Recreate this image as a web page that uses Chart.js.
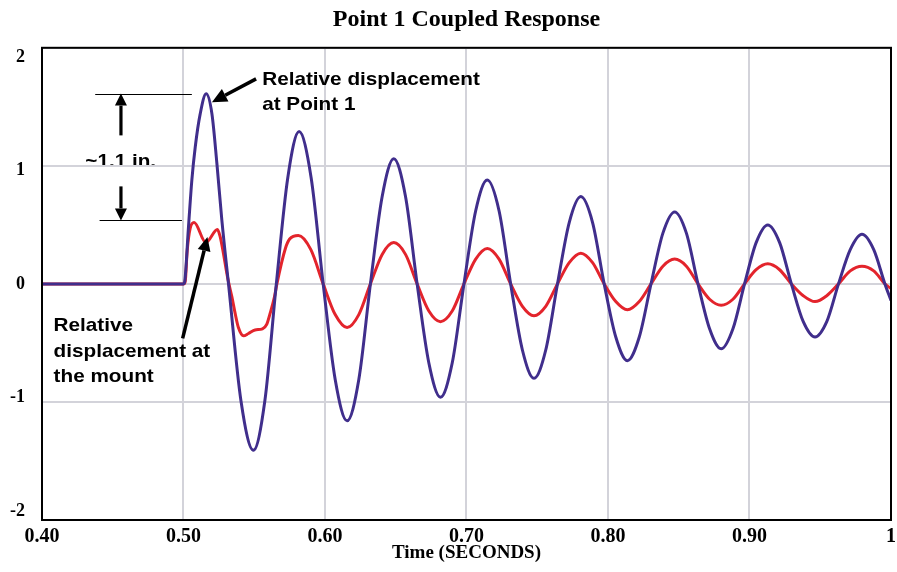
<!DOCTYPE html>
<html>
<head>
<meta charset="utf-8">
<script src="https://cdn.jsdelivr.net/npm/chart.js@4.4.1/dist/chart.umd.min.js"></script>
<style>
  body { margin: 0; background: #fff; }
  #wrap { width: 897px; height: 572px; }
</style>
</head>
<body>
<div id="wrap"><canvas id="chart"></canvas></div>
<script>
  // time (s) and displacement (in.)
  const blueTime = [0.40, 0.50, 0.5007, 0.5035, 0.5059, 0.5083, 0.5118, 0.5160, 0.5201, 0.5236, 0.5271, 0.5318,
    0.5406, 0.5494, 0.5575, 0.5656, 0.5737, 0.5817, 0.5902, 0.5987, 0.6072, 0.6156, 0.6239, 0.6321,
    0.6404, 0.6486, 0.6569, 0.6651, 0.6734, 0.6816, 0.6899, 0.6982, 0.7065, 0.7147, 0.7230, 0.7312,
    0.7395, 0.7477, 0.7560, 0.7643, 0.7726, 0.7808, 0.7891, 0.7973, 0.8055, 0.8137, 0.8221, 0.8304,
    0.8388, 0.8471, 0.8554, 0.8636, 0.8718, 0.8800, 0.8883, 0.8965, 0.9047, 0.9129, 0.9213, 0.9296,
    0.9380, 0.9463, 0.9546, 0.9629, 0.9712, 0.9795, 0.9878, 0.9957, 1.00];
  const blueDisp = [0, 0, 0.01, 0.48, 0.88, 1.16, 1.44, 1.61, 1.44, 1.02, 0.54, 0,
    -0.99, -1.41, -0.99, 0, 0.90, 1.29, 0.90, 0, -0.81, -1.16, -0.81, 0,
    0.74, 1.06, 0.74, 0, -0.67, -0.96, -0.67, 0, 0.62, 0.88, 0.62, 0,
    -0.56, -0.80, -0.56, 0, 0.52, 0.74, 0.52, 0, -0.45, -0.65, -0.45, 0,
    0.43, 0.61, 0.43, 0, -0.38, -0.55, -0.38, 0, 0.35, 0.50, 0.35, 0,
    -0.32, -0.45, -0.32, 0, 0.29, 0.42, 0.29, 0, -0.14];

  const redTime = [0.40, 0.50, 0.5012, 0.5026, 0.5047, 0.5075, 0.5158, 0.5240, 0.5259, 0.5282, 0.5306, 0.5321,
    0.5342, 0.5365, 0.5388, 0.5424, 0.5459, 0.5506, 0.5558, 0.5589, 0.5612, 0.5643, 0.5660, 0.5720,
    0.5750, 0.5812, 0.5900, 0.5987, 0.6072, 0.6156, 0.6239, 0.6321,
    0.6404, 0.6486, 0.6569, 0.6651, 0.6734, 0.6816, 0.6899, 0.6982, 0.7065, 0.7147, 0.7230, 0.7312,
    0.7395, 0.7477, 0.7560, 0.7643, 0.7726, 0.7808, 0.7891, 0.7973, 0.8055, 0.8137, 0.8221, 0.8304,
    0.8388, 0.8471, 0.8554, 0.8636, 0.8718, 0.8800, 0.8883, 0.8965, 0.9047, 0.9129, 0.9213, 0.9296,
    0.9380, 0.9463, 0.9546, 0.9629, 0.9712, 0.9795, 0.9878, 0.9957, 1.00];
  const redDisp = [0, 0, 0.02, 0.28, 0.47, 0.52, 0.35, 0.46, 0.40, 0.26, 0.09, 0,
    -0.11, -0.25, -0.37, -0.44, -0.42, -0.39, -0.38, -0.34, -0.25, -0.11, 0, 0.30,
    0.38, 0.41, 0.29, 0, -0.26, -0.37, -0.26, 0,
    0.25, 0.35, 0.25, 0, -0.23, -0.32, -0.23, 0, 0.21, 0.30, 0.21, 0,
    -0.19, -0.27, -0.19, 0, 0.18, 0.26, 0.18, 0, -0.15, -0.22, -0.15, 0,
    0.15, 0.21, 0.15, 0, -0.13, -0.18, -0.13, 0, 0.12, 0.17, 0.12, 0,
    -0.10, -0.15, -0.10, 0, 0.11, 0.15, 0.11, 0, -0.04];

  const xTicks = [0.4, 1.0];   // axis range, step 0.1
  const yTicks = [-2, 2];      // axis range, step 1

  const serif = '"Liberation Serif", "Times New Roman", serif';

  function label(ctx, text, x, y) {
    ctx.save();
    ctx.translate(x, y);
    ctx.scale(1.12, 1);
    ctx.font = 'bold 18.5px "Liberation Sans", Arial, sans-serif';
    ctx.fillStyle = '#000';
    ctx.fillText(text, 0, 0);
    ctx.restore();
  }

  function arrow(ctx, x1, y1, x2, y2, head, half, w) {
    const ang = Math.atan2(y2 - y1, x2 - x1);
    const bx = x2 - head * Math.cos(ang), by = y2 - head * Math.sin(ang);
    ctx.lineWidth = w;
    ctx.beginPath(); ctx.moveTo(x1, y1); ctx.lineTo(bx, by); ctx.stroke();
    ctx.beginPath();
    ctx.moveTo(x2, y2);
    ctx.lineTo(bx + half * Math.sin(ang), by - half * Math.cos(ang));
    ctx.lineTo(bx - half * Math.sin(ang), by + half * Math.cos(ang));
    ctx.closePath(); ctx.fill();
  }

  const notes = {
    id: 'notes',
    beforeDraw(chart) {
      // this one sits under the grid line in the original
      const { ctx, scales: { x, y } } = chart;
      label(ctx, '~1.1 in.', x.getPixelForValue(0.4306), y.getPixelForValue(0.99));
    },
    afterDatasetsDraw(chart) {
      const { ctx, chartArea: a, scales: { x, y } } = chart;
      const px = t => x.getPixelForValue(t);
      const py = v => y.getPixelForValue(v);
      ctx.save();
      ctx.strokeStyle = '#000';
      ctx.fillStyle = '#000';
      ctx.lineWidth = 2;
      ctx.strokeRect(a.left, a.top, a.right - a.left, a.bottom - a.top);

      // dimension lines for the ~1.1 in. callout
      ctx.lineWidth = 1;
      ctx.beginPath();
      ctx.moveTo(px(0.4376), Math.round(py(1.612)) + 0.5); ctx.lineTo(px(0.5059), Math.round(py(1.612)) + 0.5);
      ctx.moveTo(px(0.4407), Math.round(py(0.538)) + 0.5); ctx.lineTo(px(0.4989), Math.round(py(0.538)) + 0.5);
      ctx.stroke();
      arrow(ctx, px(0.4558), py(1.258), px(0.4558), py(1.612), 12, 6, 3.2);
      arrow(ctx, px(0.4558), py(0.826), px(0.4558), py(0.538), 12, 6, 3.2);

      arrow(ctx, px(0.5513), py(1.737), px(0.5201), py(1.538), 15, 7, 3.5);
      arrow(ctx, px(0.4994), py(-0.462), px(0.5169), py(0.398), 14, 6.5, 3.5);
      ctx.restore();

      label(ctx, 'Relative displacement', px(0.5556), py(1.682));
      label(ctx, 'at Point 1', px(0.5556), py(1.47));
      label(ctx, 'Relative', px(0.4082), py(-0.40));
      label(ctx, 'displacement at', px(0.4082), py(-0.62));
      label(ctx, 'the mount', px(0.4082), py(-0.832));
    }
  };

  const gridColor = '#d3d3da';

  new Chart(document.getElementById('chart'), {
    type: 'line',
    data: {
      datasets: [
        {
          label: 'Point 1',
          data: blueTime.map((t, i) => ({ x: t, y: blueDisp[i] })),
          borderColor: '#402e8c',
          borderWidth: 3,
          pointRadius: 0,
          cubicInterpolationMode: 'monotone',
          order: 0
        },
        {
          label: 'Mount',
          data: redTime.map((t, i) => ({ x: t, y: redDisp[i] })),
          borderColor: '#e3242c',
          borderWidth: 3,
          pointRadius: 0,
          cubicInterpolationMode: 'monotone',
          order: 1
        }
      ]
    },
    options: {
      responsive: true,
      maintainAspectRatio: false,
      devicePixelRatio: 1,
      animation: false,
      layout: { padding: { left: 0, right: 0, top: 0, bottom: 0 } },
      plugins: {
        legend: { display: false },
        tooltip: { enabled: false },
        title: {
          display: true,
          text: 'Point 1 Coupled Response',
          fullSize: false,
          color: '#000',
          font: { family: serif, size: 24, weight: 'bold', lineHeight: 1.2 },
          padding: { top: 5, bottom: 14 }
        }
      },
      scales: {
        x: {
          type: 'linear',
          min: xTicks[0],
          max: xTicks[1],
          grid: { color: gridColor, lineWidth: 2, drawTicks: false },
          border: { color: '#000', width: 2 },
          ticks: {
            stepSize: 0.1,
            padding: 7,
            maxRotation: 0,
            color: '#000',
            font: { family: serif, size: 20, weight: 'bold', lineHeight: 1 },
            callback: v => Math.abs(v - 1) < 1e-9 ? '1' : v.toFixed(2)
          },
          title: {
            display: true,
            text: 'Time (SECONDS)',
            color: '#000',
            font: { family: serif, size: 19, weight: 'bold', lineHeight: 1 },
            padding: { top: 0, bottom: 9 }
          },
          afterFit: s => { s.height = 52; s.paddingRight = 6; }
        },
        y: {
          min: yTicks[0],
          max: yTicks[1],
          grid: { color: gridColor, lineWidth: 2, drawTicks: false },
          border: { color: '#000', width: 2 },
          ticks: { display: false, stepSize: 1 }
        },
        // labels only; the original sets them slightly inside the tick lines
        yLabels: {
          position: 'left',
          min: -2.08,
          max: 2.08,
          grid: { display: false, drawTicks: false },
          border: { display: false },
          ticks: {
            stepSize: 1,
            includeBounds: false,
            padding: 17,
            color: '#000',
            font: { family: serif, size: 18, weight: 'bold' }
          },
          afterFit: s => { s.width = 42; }
        }
      }
    },
    plugins: [notes]
  });
</script>
</body>
</html>
